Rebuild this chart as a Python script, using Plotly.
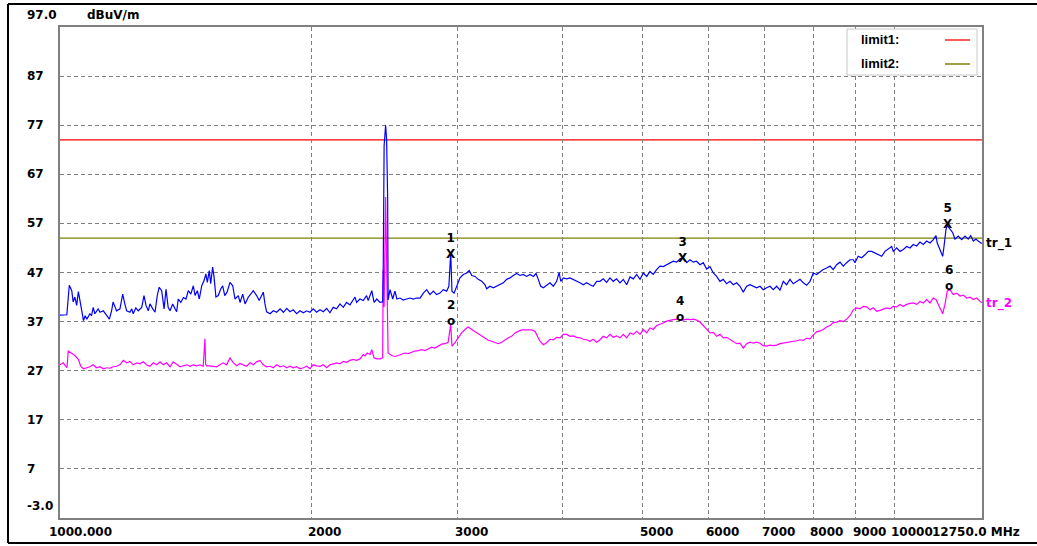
import math
import plotly.graph_objects as go

# ---------------- data ----------------
# tr_1 (blue) and tr_2 (magenta): frequency in MHz, level in dBuV/m
tr1_freq_low = [1000, 1019, 1020, 1026, 1033, 1037, 1042, 1047, 1052, 1057,
                1062, 1067, 1072, 1077, 1086, 1091, 1096, 1101, 1106, 1111,
                1117, 1127, 1138, 1146, 1153, 1158, 1164, 1169, 1180, 1189,
                1196, 1202, 1213, 1219, 1224, 1233, 1241, 1253, 1261, 1268,
                1276, 1282, 1292, 1300, 1308, 1315, 1324, 1333, 1340, 1348,
                1355, 1365, 1374, 1380, 1386, 1396, 1406, 1416, 1425, 1435,
                1445, 1452, 1461, 1469, 1479, 1488, 1496, 1502, 1510, 1516,
                1524, 1530, 1538, 1548, 1558, 1567, 1576, 1586, 1599, 1611,
                1621, 1636, 1644, 1656, 1667, 1682, 1693, 1705, 1721, 1733,
                1745, 1753, 1761, 1769, 1786, 1802, 1819, 1836, 1853, 1870,
                1887, 1904, 1922, 1940, 1958, 1976, 1994, 2012, 2031, 2050,
                2069, 2088, 2107, 2126, 2146, 2166, 2186, 2206, 2227, 2247,
                2258, 2268, 2289, 2310, 2331, 2342, 2354, 2365, 2380, 2398,
                2419, 2437, 2441, 2447, 2457, 2464, 2471, 2474, 2487, 2506,
                2521, 2535, 2557, 2580, 2604, 2628, 2652, 2677, 2702, 2727,
                2752, 2777, 2803, 2829, 2855, 2881, 2908, 2926, 2941, 2951,
                2968, 2989, 3017, 3045, 3073, 3095, 3117, 3145, 3173, 3204,
                3233, 3248, 3278, 3308, 3339, 3370, 3401, 3432, 3464, 3496,
                3528, 3561, 3593, 3627, 3661, 3695, 3722, 3745, 3770, 3798,
                3833, 3868, 3904, 3940, 3967, 3985, 4013, 4051, 4088, 4125,
                4164, 4202, 4240, 4280, 4320, 4359, 4400]
tr1_level_low = [38.3, 38.4, 39.2, 44.4, 43.3, 41.0, 42.0, 40.3, 43.1, 40.6,
                 39.2, 37.2, 38.2, 37.5, 38.6, 38.2, 39.9, 38.6, 39.2, 39.6,
                 38.9, 39.2, 38.2, 37.5, 39.2, 41.0, 40.0, 39.2, 39.6, 42.6,
                 40.6, 39.2, 38.9, 39.6, 38.6, 39.8, 39.2, 39.9, 42.3, 40.3,
                 39.2, 40.6, 39.6, 38.9, 42.3, 44.0, 43.3, 39.6, 43.6, 39.9,
                 39.2, 40.6, 39.6, 39.0, 41.6, 40.9, 41.9, 41.6, 43.3, 42.6,
                 44.3, 42.3, 43.3, 41.6, 44.3, 45.3, 46.7, 45.0, 47.4, 44.7,
                 48.1, 46.1, 42.0, 42.3, 43.6, 44.3, 42.3, 43.0, 45.0, 44.3,
                 41.6, 42.3, 40.9, 42.6, 40.6, 42.0, 42.6, 43.3, 42.3, 41.3,
                 42.3, 43.0, 40.6, 39.0, 38.6, 39.2, 38.9, 39.6, 38.9, 39.7,
                 39.0, 39.4, 38.6, 39.2, 38.8, 39.2, 38.9, 39.6, 38.9, 39.4,
                 39.0, 39.7, 38.8, 39.9, 39.6, 40.6, 39.9, 40.9, 40.4, 41.3,
                 42.0, 40.9, 41.6, 41.3, 42.3, 41.3, 42.6, 43.3, 40.9, 41.6,
                 40.9, 41.0, 47.7, 72.8, 77.0, 74.0, 61.8, 41.4, 43.5, 41.6,
                 43.2, 41.6, 41.8, 41.4, 41.6, 41.8, 41.6, 41.8, 41.8, 42.8,
                 43.5, 42.5, 43.2, 42.5, 42.8, 43.5, 43.2, 44.2, 51.0, 43.2,
                 42.8, 44.2, 45.9, 46.6, 46.9, 47.4, 46.4, 46.2, 45.6, 45.2,
                 44.5, 43.7, 44.2, 43.9, 44.2, 44.5, 44.9, 45.6, 45.9, 46.4,
                 46.8, 46.4, 46.6, 46.2, 46.6, 46.2, 46.8, 45.6, 44.2, 43.9,
                 44.5, 44.9, 44.2, 45.2, 47.0, 45.2, 45.9, 45.7, 45.9, 45.6,
                 45.2, 44.9, 44.5, 44.9, 44.5, 44.2, 45.2]

mid_freq = [4441, 4481, 4523, 4565, 4607, 4649, 4693, 4736, 4780, 4825,
            4869, 4914, 4960, 5005, 5052, 5098, 5144, 5192, 5241, 5289,
            5338, 5388, 5437, 5487, 5539, 5589, 5641, 5694, 5746, 5798,
            5853, 5906, 5961, 6017, 6072, 6128, 6185, 6241, 6299, 6359,
            6417, 6477, 6537, 6596, 6657, 6720, 6781, 6843, 6908, 6970,
            7035, 7101, 7166, 7232, 7300, 7366, 7434, 7504, 7572, 7643,
            7714, 7784, 7856, 7930, 8002, 8077, 8152, 8226, 8303, 8380,
            8456, 8535, 8615, 8693, 8774]
tr1_level_mid = [45.2, 45.7, 45.0, 45.9, 45.2, 45.7, 44.9, 45.6, 44.5, 46.1,
                 45.7, 46.6, 45.6, 46.9, 46.2, 47.2, 46.6, 47.6, 48.3, 48.2,
                 48.6, 49.0, 49.3, 49.1, 49.8, 50.0, 49.0, 49.6, 49.1, 49.3,
                 48.6, 49.0, 47.7, 48.2, 46.9, 46.2, 45.2, 45.6, 44.7, 45.2,
                 44.5, 44.9, 44.2, 43.0, 44.2, 44.5, 44.2, 43.9, 44.2, 43.5,
                 43.9, 44.2, 43.5, 44.2, 43.4, 45.2, 44.5, 45.6, 44.7, 45.2,
                 45.6, 44.9, 44.4, 45.2, 46.9, 46.6, 47.2, 47.6, 47.9, 48.3,
                 47.6, 48.6, 49.1, 48.3, 49.0]
tr2_level_mid = [33.3, 34.0, 33.7, 34.4, 33.8, 34.1, 33.7, 34.4, 33.7, 34.7,
                 34.4, 35.0, 34.4, 35.4, 34.7, 35.7, 35.4, 36.2, 36.4, 36.7,
                 37.1, 37.3, 37.4, 37.5, 37.4, 37.3, 37.5, 37.4, 37.5, 37.3,
                 36.9, 36.2, 35.4, 34.7, 34.8, 34.0, 34.4, 33.7, 33.8, 33.3,
                 33.0, 32.5, 32.6, 31.6, 32.5, 32.8, 32.6, 32.8, 32.6, 32.1,
                 32.0, 32.2, 32.1, 32.2, 32.5, 32.6, 32.7, 32.8, 33.0, 33.1,
                 33.3, 33.2, 33.6, 33.5, 34.3, 34.9, 35.1, 35.4, 35.9, 36.2,
                 36.8, 36.9, 37.2, 37.0, 37.5]

tr1_freq_high = [8856, 8937, 8978, 9059, 9147, 9230, 9312, 9403, 9488, 9573,
                 9666, 9754, 9841, 9936, 9980, 10073, 10167, 10260, 10355, 10452,
                 10547, 10645, 10744, 10842, 10943, 11045, 11146, 11228, 11268, 11354,
                 11439, 11480, 11542, 11583, 11672, 11760, 11833, 11939, 12055, 12165,
                 12274, 12358, 12447, 12540, 12617, 12740]
tr1_level_high = [49.6, 49.6, 49.0, 50.3, 50.0, 50.6, 51.3, 51.3, 51.0, 50.6,
                  50.3, 51.3, 51.7, 52.3, 51.3, 52.0, 51.3, 51.7, 52.3, 52.0,
                  52.7, 52.4, 53.2, 52.7, 53.4, 53.0, 53.7, 54.5, 53.0, 51.7,
                  50.3, 52.3, 55.7, 56.6, 55.7, 55.1, 53.8, 54.4, 53.7, 54.4,
                  53.8, 54.5, 53.4, 53.8, 53.4, 52.9]

tr2_freq_low = [1000, 1009, 1019, 1020, 1023, 1028, 1037, 1042, 1052, 1059,
                1067, 1077, 1086, 1096, 1106, 1117, 1127, 1138, 1148, 1158,
                1169, 1180, 1191, 1202, 1213, 1224, 1236, 1247, 1258, 1270,
                1282, 1294, 1306, 1318, 1330, 1342, 1355, 1367, 1380, 1393,
                1406, 1419, 1432, 1445, 1458, 1472, 1485, 1490, 1492, 1495,
                1499, 1513, 1527, 1541, 1555, 1569, 1584, 1599, 1614, 1629,
                1644, 1659, 1674, 1690, 1705, 1721, 1737, 1753, 1769, 1786,
                1802, 1819, 1836, 1853, 1870, 1887, 1904, 1922, 1940, 1958,
                1976, 1994, 2012, 2031, 2050, 2069, 2088, 2107, 2126, 2146,
                2166, 2186, 2206, 2227, 2247, 2268, 2289, 2310, 2321, 2335,
                2354, 2365, 2380, 2398, 2419, 2437, 2441, 2447, 2457, 2464,
                2470, 2474, 2499, 2521, 2544, 2569, 2592, 2616, 2640, 2664,
                2688, 2715, 2739, 2764, 2790, 2815, 2841, 2868, 2894, 2920,
                2941, 2951, 2976, 3002, 3031, 3059, 3086, 3117, 3145, 3173,
                3204, 3233, 3262, 3293, 3323, 3353, 3386, 3417, 3447, 3480,
                3512, 3543, 3578, 3610, 3643, 3678, 3712, 3735, 3763, 3798,
                3833, 3868, 3904, 3940, 3977, 4013, 4051, 4088, 4125, 4164,
                4202, 4240, 4280, 4320, 4359, 4400]
tr2_level_low = [28.2, 28.6, 27.6, 28.0, 31.0, 30.8, 30.3, 30.1, 29.3, 27.9,
                 27.4, 27.6, 27.8, 28.2, 27.6, 27.8, 27.4, 27.6, 27.5, 27.8,
                 27.9, 28.2, 29.1, 28.6, 28.9, 28.2, 28.6, 28.4, 28.8, 28.2,
                 27.9, 28.6, 28.2, 28.8, 28.2, 28.6, 27.8, 28.8, 28.2, 27.8,
                 28.0, 28.2, 27.9, 28.2, 28.0, 28.2, 27.9, 32.0, 33.5, 28.3,
                 28.0, 28.0, 27.9, 27.8, 28.2, 28.6, 28.2, 29.6, 28.6, 28.0,
                 28.5, 28.2, 27.9, 28.6, 28.2, 28.8, 29.1, 28.2, 27.8, 27.9,
                 27.6, 28.2, 27.8, 28.0, 27.6, 27.9, 27.6, 27.8, 27.4, 27.6,
                 27.9, 27.4, 28.2, 28.0, 27.9, 28.2, 27.6, 28.2, 28.4, 28.6,
                 28.4, 28.9, 28.7, 29.1, 29.3, 29.1, 29.4, 30.3, 30.0, 30.6,
                 30.3, 31.3, 29.6, 29.4, 29.4, 29.6, 47.5, 40.0, 62.4, 50.0,
                 36.1, 30.6, 30.1, 29.9, 30.1, 30.3, 30.6, 30.5, 30.8, 31.0,
                 31.1, 31.3, 31.1, 31.4, 31.8, 31.6, 32.0, 32.4, 32.5, 32.8,
                 36.5, 32.0, 32.7, 33.7, 34.7, 35.4, 35.9, 35.4, 35.0, 34.6,
                 34.0, 33.7, 33.2, 33.0, 32.7, 32.5, 32.8, 33.3, 33.7, 34.0,
                 34.7, 35.0, 35.3, 35.3, 35.3, 35.3, 35.0, 34.0, 33.0, 32.3,
                 32.7, 33.4, 33.3, 33.8, 33.7, 34.4, 34.4, 34.0, 34.1, 33.8,
                 33.7, 33.4, 33.3, 33.0, 33.4, 32.8]

tr2_freq_high = [8856, 8937, 9019, 9104, 9187, 9272, 9359, 9444, 9532, 9621,
                 9708, 9799, 9890, 9980, 10073, 10167, 10260, 10355, 10452, 10547,
                 10645, 10744, 10842, 10943, 11045, 11146, 11228, 11298, 11376, 11439,
                 11511, 11583, 11672, 11778, 11888, 11999, 12110, 12221, 12335, 12447,
                 12563, 12740]
tr2_level_high = [38.2, 39.4, 39.8, 39.6, 40.1, 40.0, 39.4, 39.8, 39.1, 39.3,
                  39.6, 39.8, 39.6, 40.1, 40.0, 40.5, 40.1, 40.5, 40.7, 40.8,
                  40.5, 41.1, 40.8, 41.5, 40.8, 41.8, 41.5, 40.5, 39.4, 38.6,
                  40.5, 43.2, 43.5, 42.5, 42.8, 42.2, 42.4, 41.8, 42.0, 41.5,
                  41.8, 40.8]

limit1_level = 74.0
limit2_level = 54.0

marker_ids = ["1", "2", "3", "4", "5", "6"]
marker_symbols = ["X", "o", "X", "o", "X", "o"]
marker_freq = [2941, 2941, 5580, 5539, 11596, 11646]
marker_level = [51.0, 37.1, 50.2, 38.0, 57.0, 44.3]

x_range_mhz = [1000.0, 12750.0]
y_range = [-3.0, 97.0]
xtick_vals = [2000, 3000, 4000, 5000, 6000, 7000, 8000, 9000, 10000]
xtick_text = ["2000", "3000", "", "5000", "6000", "7000", "8000", "9000", "10000"]
ytick_vals = [87, 77, 67, 57, 47, 37, 27, 17, 7]
ytick_text = ["87", "77", "67", "57", "47", "37", "27", "17", "7"]

# ---------------- layout helpers ----------------
W, H = 1037, 546
L, R, T, B = 60, 55, 27, 28
PW, PH = W - L - R, H - T - B
FONT = "DejaVu Sans"
BOLD = dict(family=FONT, size=12, color="black", weight="bold")


def px(x):
    return (x - L) / PW


def py(y):
    return (H - B - y) / PH


tr1_freq = tr1_freq_low + mid_freq + tr1_freq_high
tr1_level = tr1_level_low + tr1_level_mid + tr1_level_high
tr2_freq = tr2_freq_low + mid_freq + tr2_freq_high
tr2_level = tr2_level_low + tr2_level_mid + tr2_level_high

fig = go.Figure()
fig.add_trace(go.Scatter(x=tr2_freq, y=tr2_level, mode="lines",
                         line=dict(color="#FF00FF", width=1.2), hoverinfo="skip"))
fig.add_trace(go.Scatter(x=tr1_freq, y=tr1_level, mode="lines",
                         line=dict(color="#0000FF", width=1.2), hoverinfo="skip"))

shapes = []
for lvl, col in [(limit1_level, "#FF0000"), (limit2_level, "#808000")]:
    shapes.append(dict(type="line", xref="paper", x0=0, x1=1, yref="y", y0=lvl, y1=lvl,
                       line=dict(color=col, width=1.3), layer="between"))

# legend box
shapes.append(dict(type="rect", xref="paper", yref="paper", x0=px(847), x1=px(977),
                   y0=py(75), y1=py(29), fillcolor="white",
                   line=dict(color="#c8c8c8", width=1), layer="above"))
shapes.append(dict(type="line", xref="paper", yref="paper", x0=px(945), x1=px(970),
                   y0=py(40), y1=py(40), line=dict(color="#FF0000", width=1.3)))
shapes.append(dict(type="line", xref="paper", yref="paper", x0=px(945), x1=px(970),
                   y0=py(64), y1=py(64), line=dict(color="#808000", width=1.5)))

# outer black frame
for (x0, y0, x1, y1) in [(8, 4, 8, 543), (8, 4, 1045, 4), (8, 543, 1045, 543)]:
    shapes.append(dict(type="line", xref="paper", yref="paper", x0=px(x0), x1=px(x1),
                       y0=py(y0), y1=py(y1), line=dict(color="black", width=2)))

ann = []
for v, t in zip(ytick_vals, ytick_text):
    ann.append(dict(x=px(25), xref="paper", xanchor="left", y=v, yref="y",
                    yanchor="middle", text=t, showarrow=False, font=BOLD))
ann.append(dict(x=px(25), xref="paper", xanchor="left", y=py(15), yref="paper",
                yanchor="middle", text="97.0", showarrow=False, font=BOLD))
ann.append(dict(x=px(25), xref="paper", xanchor="left", y=py(506), yref="paper",
                yanchor="middle", text="-3.0", showarrow=False, font=BOLD))
ann.append(dict(x=px(85), xref="paper", xanchor="left", y=py(15), yref="paper",
                yanchor="middle", text="dBuV/m", showarrow=False, font=BOLD))

for v, t in zip(xtick_vals, xtick_text):
    if t:
        ann.append(dict(x=math.log10(v), xref="x", xanchor="left", xshift=-5,
                        y=py(532), yref="paper", yanchor="middle", text=t,
                        showarrow=False, font=BOLD))
ann.append(dict(x=px(47), xref="paper", xanchor="left", y=py(532), yref="paper",
                yanchor="middle", text="1000.000", showarrow=False, font=BOLD))
ann.append(dict(x=px(930), xref="paper", xanchor="left", y=py(532), yref="paper",
                yanchor="middle", text="12750.0 MHz", showarrow=False, font=BOLD))

LEG = dict(family="Liberation Sans", size=13, color="black", weight="bold")
ann.append(dict(x=px(859), xref="paper", xanchor="left", y=py(40), yref="paper",
                yanchor="middle", text="limit1:", showarrow=False, font=LEG))
ann.append(dict(x=px(859), xref="paper", xanchor="left", y=py(64), yref="paper",
                yanchor="middle", text="limit2:", showarrow=False, font=LEG))

ann.append(dict(x=px(984), xref="paper", xanchor="left", y=py(243), yref="paper",
                yanchor="middle", text="tr_1", showarrow=False, font=BOLD))
ann.append(dict(x=px(984), xref="paper", xanchor="left", y=py(303), yref="paper",
                yanchor="middle", text="tr_2", showarrow=False,
                font=dict(BOLD, color="#FF00FF")))

# marker labels: number stacked above the marker symbol in one text block
for mid, sym, f, lv in zip(marker_ids, marker_symbols, marker_freq, marker_level):
    ann.append(dict(x=math.log10(f), xref="x", y=lv, yref="y", xanchor="center",
                    yanchor="middle", yshift=7 if sym == "X" else 8,
                    text=mid + "<br>" + sym, showarrow=False,
                    font=dict(BOLD, size=12)))

grid = dict(showgrid=True, gridcolor="#808080", gridwidth=1, griddash="4px,3px",
            showline=True, mirror=True, linecolor="#808080", linewidth=2,
            zeroline=False, ticks="", showticklabels=False, fixedrange=True)

fig.update_layout(
    width=W, height=H,
    margin=dict(l=L, r=R, t=T, b=B, autoexpand=False),
    paper_bgcolor="white", plot_bgcolor="white",
    showlegend=False,
    xaxis=dict(type="log", range=[math.log10(x_range_mhz[0]), math.log10(x_range_mhz[1])],
               tickvals=xtick_vals, **grid),
    yaxis=dict(range=y_range, tickvals=ytick_vals, **grid),
    shapes=shapes,
    annotations=ann,
)

fig.write_html(
    "out.html",
    config={"displayModeBar": False},
    post_script="document.body.style.margin='0px';document.body.style.overflow='hidden';",
)
